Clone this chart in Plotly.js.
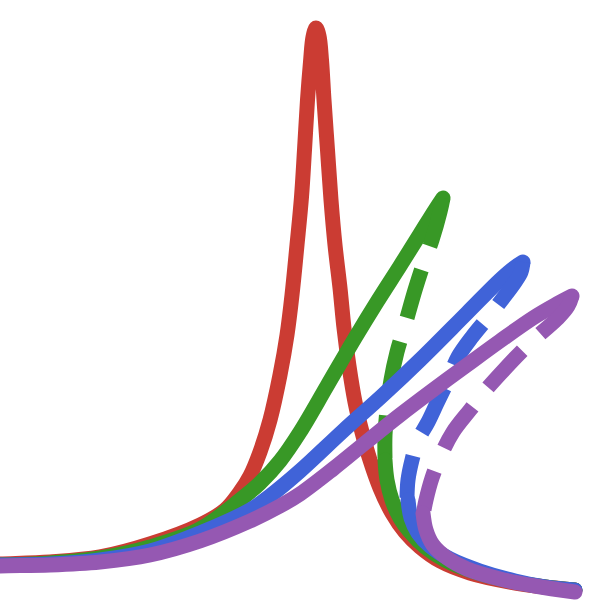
<!DOCTYPE html>
<html>
<head>
<meta charset="utf-8">
<script src="https://cdn.plot.ly/plotly-3.0.1.min.js"></script>
<style>html,body{margin:0;padding:0;background:#fff;}#chart{width:600px;height:600px;}</style>
</head>
<body>
<div id="chart"></div>
<script>
// Frequency-response curves (x = drive frequency, y = response amplitude)
const redX = [-0.2,0,0.5,1,1.5,2,2.25,2.4,2.5,2.6,2.7,2.8,2.87,2.92,2.97,3.015,3.045,3.075,3.105,3.13,3.16,3.19,3.215,3.24,3.275,3.31,3.35,3.4,3.44,3.49,3.55,3.62,3.7,3.8,3.92,4.05,4.2,4.4,4.7,5.1,5.45,5.75];
const redY = [0.35,0.36,0.38,0.43,0.56,0.75,0.90,1.08,1.24,1.48,1.80,2.25,2.65,3.05,3.55,4.03,4.50,5.00,5.38,5.63,5.72,5.64,5.40,5.00,4.50,4.00,3.55,3.12,2.72,2.34,1.98,1.68,1.40,1.12,0.87,0.68,0.53,0.39,0.27,0.18,0.13,0.10];

const greenUpX = [-0.2,0,0.5,1,1.5,2,2.4,2.6,2.8,3,3.27,3.55,3.77,4,4.2,4.35,4.43];
const greenUpY = [0.35,0.35,0.37,0.42,0.53,0.71,1.00,1.17,1.39,1.68,2.14,2.62,2.98,3.34,3.66,3.90,4.02];
const greenMidX = [4.43,4.40,4.32,4.23,4.15,4.05,3.97,3.91,3.87,3.85,3.85];
const greenMidY = [4.02,3.88,3.60,3.35,3.10,2.75,2.48,2.20,1.90,1.65,1.42];
const greenLowX = [3.85,3.87,3.92,4.0,4.1,4.25,4.45,4.75,5.1,5.45,5.75];
const greenLowY = [1.40,1.20,1.00,0.82,0.68,0.53,0.40,0.28,0.19,0.13,0.10];

const blueUpX = [-0.2,0,0.5,1,1.5,2,2.5,2.7,3,3.43,3.83,4.2,4.67,5,5.14,5.23];
const blueUpY = [0.34,0.35,0.36,0.40,0.49,0.67,0.90,1.04,1.29,1.69,2.05,2.40,2.87,3.20,3.32,3.38];
const blueMidX = [5.23,5.21,5.15,5.07,4.90,4.72,4.58,4.48,4.37,4.28,4.18,4.12,4.08,4.07];
const blueMidY = [3.38,3.28,3.18,3.07,2.85,2.63,2.43,2.20,1.97,1.78,1.60,1.40,1.20,1.02];
const blueLowX = [4.08,4.11,4.18,4.30,4.50,4.80,5.15,5.45,5.75];
const blueLowY = [1.00,0.82,0.67,0.54,0.41,0.29,0.19,0.13,0.10];

const purpleUpX = [-0.2,0,0.5,1,1.5,2,2.5,2.8,3,3.33,3.65,4,4.33,4.67,5,5.33,5.55,5.72];
const purpleUpY = [0.33,0.34,0.35,0.38,0.45,0.59,0.79,0.94,1.06,1.31,1.57,1.85,2.10,2.35,2.59,2.82,2.95,3.04];
const purpleMidX = [5.72,5.68,5.58,5.40,5.21,5.02,4.85,4.70,4.53,4.41,4.32,4.26,4.24];
const purpleMidY = [3.04,2.94,2.82,2.66,2.48,2.28,2.09,1.90,1.68,1.45,1.22,1.00,0.90];
const purpleLowX = [4.23,4.26,4.33,4.47,4.67,5.00,5.35,5.75];
const purpleLowY = [0.87,0.70,0.55,0.42,0.31,0.21,0.14,0.08];

const RED = '#CB3C33', GREEN = '#389826', BLUE = '#4063D8', PURPLE = '#9558B2';
const LW = 15;
const DASH = '50px,25px';

function tr(x, y, color, dashed) {
  return {
    x: x, y: y, type: 'scatter', mode: 'lines', hoverinfo: 'skip',
    line: {color: color, width: LW, shape: 'spline', smoothing: 1, dash: dashed ? DASH : 'solid'}
  };
}

const data = [
  tr(redX, redY, RED, false),
  tr(greenUpX, greenUpY, GREEN, false),
  tr(greenMidX, greenMidY, GREEN, true),
  tr(greenLowX, greenLowY, GREEN, false),
  tr(blueUpX, blueUpY, BLUE, false),
  tr(blueMidX, blueMidY, BLUE, true),
  tr(blueLowX, blueLowY, BLUE, false),
  tr(purpleUpX, purpleUpY, PURPLE, false),
  tr(purpleMidX, purpleMidY, PURPLE, true),
  tr(purpleLowX, purpleLowY, PURPLE, false)
];

const layout = {
  width: 600, height: 600,
  margin: {l: 0, r: 0, t: 0, b: 0, pad: 0},
  paper_bgcolor: '#ffffff', plot_bgcolor: '#ffffff',
  showlegend: false,
  xaxis: {range: [0, 6], visible: false, fixedrange: true},
  yaxis: {range: [0, 6], visible: false, fixedrange: true}
};

Plotly.newPlot('chart', data, layout, {displayModeBar: false, staticPlot: true}).then(function () {
  const traces = document.querySelectorAll('.scatterlayer .trace');
  traces.forEach(function (g, i) {
    const p = g.querySelector('path.js-line');
    if (!p) return;
    p.style.strokeLinejoin = 'round';
    if (data[i].line.dash === 'solid') p.style.strokeLinecap = 'round';
  });
});
</script>
</body>
</html>
